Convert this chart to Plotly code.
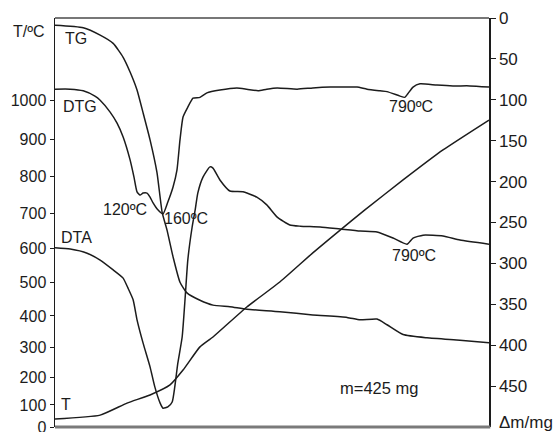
import numpy as np
import plotly.graph_objects as go

# ---- Temperature axis: Pt-PtRh10 (type S) thermocouple EMF scale (derivatograph) ----
tc_temp_c = [0, 100, 200, 300, 400, 500, 600, 700, 800, 900, 1000]
tc_emf_mv = [0.000, 0.646, 1.441, 2.323, 3.259, 4.233, 5.239, 6.275, 7.345, 8.449, 9.587]

# ---- Time (arbitrary units, hidden axis) ----
# T curve (deg C)
t_time = [0, 10.4, 16.6, 21.9, 26.5, 29.5, 33.4, 36.4, 44.2, 51.8, 59.4, 65.7, 71.4, 80.2, 89.4, 100]
t_degc = [36, 54, 107, 137, 174, 226, 303, 334, 427, 502, 587, 652, 709, 791, 871, 949]

# TG curve (mass loss, mg)
tg_time = [0, 6.5, 10.4, 13.4, 15.7, 17.3, 18.9, 20.3, 21.9, 23.5, 24.7, 25.8, 27.2, 28.8,
           30.4, 33.4, 36.4, 40.3, 44.2, 51.8, 59.4, 67.3, 70.3, 74.2, 76.5, 80.2, 85.7, 93.3, 100]
tg_mg = [9, 12, 21, 31, 48, 66, 88, 116, 149, 189, 238, 259, 292, 323,
         336, 345, 351, 353, 356, 359, 363, 366, 369, 368, 375, 387, 391, 394, 397]

# DTG curve (relative signal)
dtg_time = [0, 3.5, 6.5, 9.2, 10.4, 12.7, 14.3, 15.7, 17.3, 18.2, 18.9, 19.6, 20.3, 21.2, 21.9,
            22.6, 23.7, 24.9, 26.0, 27.2, 28.1, 28.8, 29.5, 30.6, 31.8, 33.4, 35.0, 38.0, 41.9,
            44.2, 46.8, 48.8, 51.2, 55.8, 59.4, 63.4, 67.3, 69.6, 71.9, 74.9, 76.5, 79.5, 80.6,
            81.3, 82.5, 84.1, 88.0, 91.7, 95.6, 100]
dtg_rel = [82.6, 82.6, 82.2, 80.9, 79.9, 77.0, 74.3, 70.9, 65.3, 61.1, 57.5, 56.7, 57.2, 57.2, 56.2,
           54.8, 53.1, 52.1, 55.0, 58.7, 62.8, 70.2, 75.8, 78.2, 80.4, 80.6, 81.7, 82.4, 82.9,
           82.6, 82.2, 82.6, 82.9, 82.6, 82.9, 83.1, 83.1, 83.1, 82.6, 82.2, 82.0, 80.9, 80.6,
           81.5, 83.1, 83.9, 83.6, 83.4, 83.4, 83.1]

# DTA curve (relative signal)
dta_time = [0, 3.5, 7.4, 10.4, 13.4, 15.7, 16.8, 18.0, 18.9, 20.3, 21.9, 23.0, 24.2, 24.9, 26.0,
            27.0, 27.6, 28.3, 29.3, 30.0, 30.6, 31.6, 32.3, 32.9, 34.1, 35.7, 36.4, 38.0, 40.3,
            43.3, 46.5, 48.8, 51.2, 54.1, 56.5, 61.1, 65.7, 70.3, 74.2, 77.9, 81.1, 82.5, 84.8,
            89.4, 93.3, 100]
dta_rel = [43.8, 43.5, 42.5, 40.8, 38.4, 36.4, 34.0, 31.1, 26.2, 20.5, 14.7, 9.8, 5.9, 4.6, 4.9,
           6.1, 9.8, 15.6, 22.0, 31.8, 40.8, 48.9, 53.1, 57.2, 61.1, 63.6, 63.3, 60.4, 57.7,
           57.5, 56.2, 54.3, 51.3, 49.4, 49.1, 48.9, 48.4, 47.9, 47.7, 46.2, 44.7, 46.2, 46.9,
           46.7, 45.7, 44.7]

mass_ticks = [0, 50, 100, 150, 200, 250, 300, 350, 400, 450]

INK = "#1c1c1c"
FONT = "Liberation Sans, Arial, sans-serif"

t_emf = np.interp(t_degc, tc_temp_c, tc_emf_mv)

fig = go.Figure()
line_style = dict(color=INK, width=1.5, shape="spline", smoothing=0.5)
fig.add_trace(go.Scatter(x=tg_time, y=tg_mg, yaxis="y2", mode="lines", line=line_style, name="TG"))
fig.add_trace(go.Scatter(x=dtg_time, y=dtg_rel, yaxis="y3", mode="lines", line=line_style, name="DTG"))
fig.add_trace(go.Scatter(x=dta_time, y=dta_rel, yaxis="y3", mode="lines", line=line_style, name="DTA"))
fig.add_trace(go.Scatter(x=t_time, y=t_emf, yaxis="y", mode="lines", line=line_style, name="T"))

fig.update_layout(
    width=553, height=432,
    margin=dict(l=55, r=64, t=18, b=5, autoexpand=False),
    paper_bgcolor="white", plot_bgcolor="white",
    showlegend=False,
    hovermode=False,
    font=dict(family=FONT, size=16, color=INK),
    xaxis=dict(range=[0, 100], visible=False, fixedrange=True, automargin=False),
    yaxis=dict(range=[0, 12], tickmode="array",
               tickvals=tc_emf_mv, ticktext=[str(v) for v in tc_temp_c],
               showgrid=False, zeroline=False, showline=True, linecolor=INK, linewidth=1.5,
               ticks="outside", ticklen=4, tickwidth=1, tickcolor=INK,
               ticklabeloverflow="allow", automargin=False,
               tickfont=dict(size=16, color=INK)),
    yaxis2=dict(range=[500, 0], overlaying="y", side="right", tickmode="array",
                tickvals=mass_ticks, ticktext=[str(v) for v in mass_ticks],
                showgrid=False, zeroline=False, showline=True, linecolor=INK, linewidth=1.5,
                ticks="outside", ticklen=5, tickwidth=1, tickcolor=INK,
                ticklabeloverflow="allow", automargin=False,
                tickfont=dict(size=17, color=INK)),
    yaxis3=dict(range=[0, 100], overlaying="y", visible=False, automargin=False),
)

# frame: top and bottom edges
fig.add_shape(type="line", xref="paper", yref="paper", x0=0, x1=1, y0=1, y1=1,
              line=dict(color="#4a4a4a", width=1.5))
fig.add_shape(type="line", xref="paper", yref="paper", x0=0, x1=1.003, y0=0, y1=0,
              line=dict(color="#7a7a7a", width=3))

labels = [
    ("T/ºC", -0.0184, 0.968, "right", 16),
    ("TG", 0.0484, 0.9487, "center", 16),
    ("DTG", 0.0576, 0.7848, "center", 16),
    ("120ºC", 0.1624, 0.533, "center", 16),
    ("160ºC", 0.3007, 0.5086, "center", 16),
    ("790ºC", 0.8203, 0.7824, "center", 16),
    ("DTA", 0.0495, 0.4645, "center", 16),
    ("790ºC", 0.8272, 0.4181, "center", 16),
    ("T", 0.0242, 0.0538, "center", 16),
    ("m=425 mg", 0.7465, 0.0954, "center", 16.5),
    ("Δm/mg", 1.0184, 0.0098, "left", 17),
]
for txt, x, y, xa, sz in labels:
    fig.add_annotation(text=txt, x=x, y=y, xref="paper", yref="paper",
                       xanchor=xa, yanchor="middle", showarrow=False,
                       font=dict(family=FONT, size=sz, color=INK))

fig.write_html("out.html", config={"displayModeBar": False, "staticPlot": True},
               post_script="document.body.style.margin='0';document.body.style.overflow='hidden';")
